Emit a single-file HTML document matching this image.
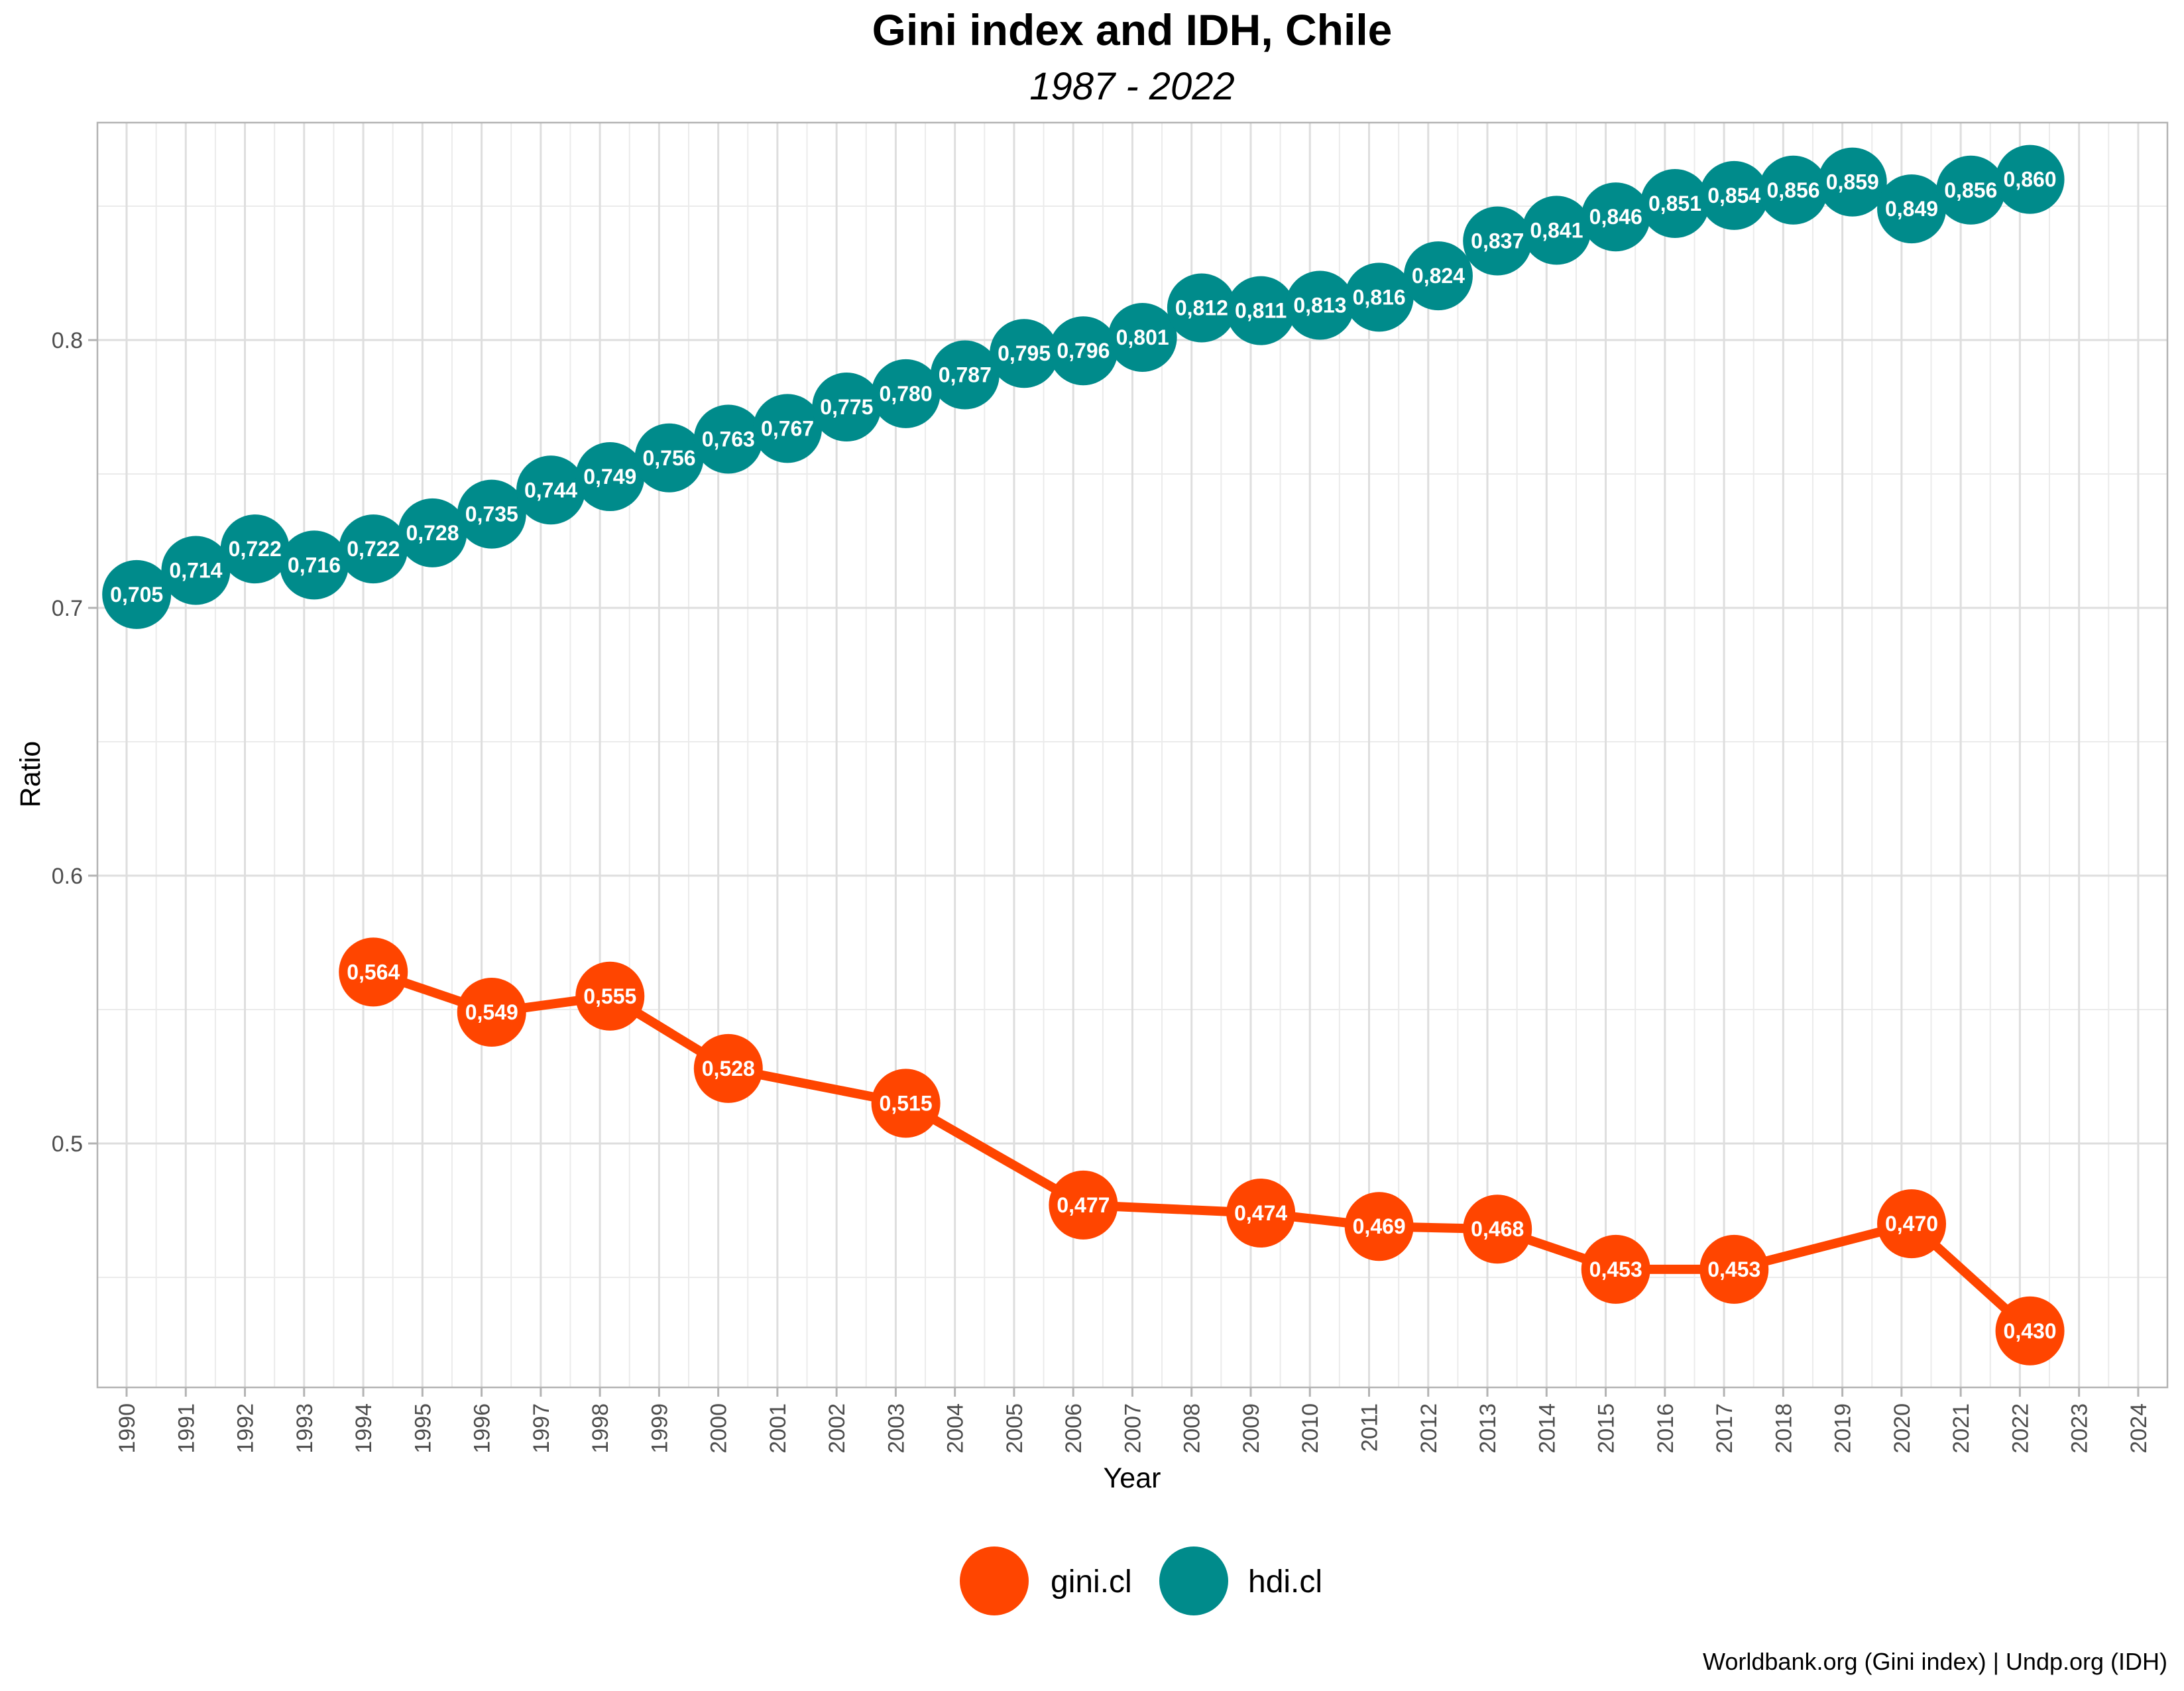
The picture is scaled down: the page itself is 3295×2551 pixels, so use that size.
<!DOCTYPE html>
<html><head><meta charset="utf-8">
<style>
html,body{margin:0;padding:0;background:#fff;}
svg{display:block;font-family:"Liberation Sans",Arial,sans-serif;}
</style></head>
<body>
<svg id="chart" width="3295" height="2551" viewBox="0 0 3295 2551" xmlns="http://www.w3.org/2000/svg">
<rect width="3295" height="2551" fill="#fff"/>
<text x="1708" y="68" text-anchor="middle" font-size="66" font-weight="bold" fill="#000">Gini index and IDH, Chile</text>
<text x="1708" y="150" text-anchor="middle" font-size="58" font-style="italic" fill="#000">1987 - 2022</text>
<g id="grid"></g>
<rect x="147" y="185" width="3123" height="1908" fill="none" stroke="#b3b3b3" stroke-width="2.5"/>
<g id="axes"></g>
<g id="series"></g>
<text transform="translate(60,1168) rotate(-90)" text-anchor="middle" font-size="43" fill="#000">Ratio</text>
<text x="1708" y="2244" text-anchor="middle" font-size="43" fill="#000">Year</text>
<g>
<g>
<circle cx="1500" cy="2385" r="52" fill="#FF4500"/>
<text x="1585" y="2402" font-size="48" fill="#000">gini.cl</text>
</g>
<g>
<circle cx="1801" cy="2385" r="52" fill="#008B8B"/>
<text x="1883" y="2402" font-size="48" fill="#000">hdi.cl</text>
</g>
</g>
<text x="3270" y="2519" text-anchor="end" font-size="36" fill="#000">Worldbank.org (Gini index) | Undp.org (IDH)</text>
</svg>
<script>
const giniYears = [1994,1996,1998,2000,2003,2006,2009,2011,2013,2015,2017,2020,2022];
const giniValues = [0.564,0.549,0.555,0.528,0.515,0.477,0.474,0.469,0.468,0.453,0.453,0.470,0.430];
const hdiYears = [1990,1991,1992,1993,1994,1995,1996,1997,1998,1999,2000,2001,2002,2003,2004,2005,2006,2007,2008,2009,2010,2011,2012,2013,2014,2015,2016,2017,2018,2019,2020,2021,2022];
const hdiValues = [0.705,0.714,0.722,0.716,0.722,0.728,0.735,0.744,0.749,0.756,0.763,0.767,0.775,0.780,0.787,0.795,0.796,0.801,0.812,0.811,0.813,0.816,0.824,0.837,0.841,0.846,0.851,0.854,0.856,0.859,0.849,0.856,0.860];
const yTicks = [0.5,0.6,0.7,0.8];
const xTickYears = [1990,1991,1992,1993,1994,1995,1996,1997,1998,1999,2000,2001,2002,2003,2004,2005,2006,2007,2008,2009,2010,2011,2012,2013,2014,2015,2016,2017,2018,2019,2020,2021,2022,2023,2024];

const NS = "http://www.w3.org/2000/svg";
const L=147,R=3270,T=185,B=2093;
const X0=1989.507,X1=2024.494,Y0=0.4089,Y1=0.8812;
const POINT_OFFSET=0.17;
function sx(v){return L+(v-X0)/(X1-X0)*(R-L);}
function sy(v){return B-(v-Y0)/(Y1-Y0)*(B-T);}
function mk(tag,attrs,parent){const e=document.createElementNS(NS,tag);for(const k in attrs)e.setAttribute(k,attrs[k]);parent.appendChild(e);return e;}
const grid=document.getElementById('grid'), axes=document.getElementById('axes'), series=document.getElementById('series');

for(let i=-1;i<xTickYears.length;i++){
  const yr = i<0 ? xTickYears[0]-1 : xTickYears[i];
  const xm=sx(yr+0.5);
  if(xm<R && xm>L){const g=mk('line',{x1:xm,x2:xm,y1:T,y2:B,stroke:'#ebebeb','stroke-width':2},grid);
  
  }
}
const ym0=[0.45,0.55,0.65,0.75,0.85];
for(const v of ym0){
  const g=mk('line',{x1:L,x2:R,y1:sy(v),y2:sy(v),stroke:'#ebebeb','stroke-width':2},grid);
  
  
}
for(const yr of xTickYears){
  const x=sx(yr);
  const g=mk('line',{x1:x,x2:x,y1:T,y2:B,stroke:'#dedede','stroke-width':3},grid);
  
  
  const t=mk('line',{x1:x,x2:x,y1:B,y2:B+14,stroke:'#b3b3b3','stroke-width':3},axes);
  
  
  const lb=mk('text',{transform:`translate(${x+12},${B+24}) rotate(-90)`,'text-anchor':'end','font-size':34,fill:'#4d4d4d'},axes);
  lb.textContent=yr;
  
  
}
for(const v of yTicks){
  const y=sy(v);
  const g=mk('line',{x1:L,x2:R,y1:y,y2:y,stroke:'#dedede','stroke-width':3},grid);
  
  
  const t=mk('line',{x1:L-14,x2:L,y1:y,y2:y,stroke:'#b3b3b3','stroke-width':3},axes);
  
  
  const lb=mk('text',{x:L-22,y:y+12,'text-anchor':'end','font-size':34,fill:'#4d4d4d'},axes);
  lb.textContent=v.toFixed(1);
  
  
}
function fmt(v){return v.toFixed(3).replace('.',',');}
function drawSeries(years,vals,color,name,line){
  if(line){
    const pts=years.map((y,i)=>sx(y+POINT_OFFSET)+','+sy(vals[i])).join(' ');
    const pl=mk('polyline',{points:pts,fill:'none',stroke:color,'stroke-width':14,'stroke-linejoin':'round'},series);
    
    
  }
  years.forEach((y,i)=>{
    const cx=sx(y+POINT_OFFSET), cy=sy(vals[i]);
    const c=mk('circle',{cx:cx,cy:cy,r:52,fill:color},series);
    
    
  });
  years.forEach((y,i)=>{
    const cx=sx(y+POINT_OFFSET), cy=sy(vals[i]);
    const t=mk('text',{x:cx,y:cy+11,'text-anchor':'middle','font-size':32,'font-weight':'bold',fill:'#fff'},series);
    t.textContent=fmt(vals[i]);
    
    
  });
}
drawSeries(giniYears,giniValues,'#FF4500','gini',true);
drawSeries(hdiYears,hdiValues,'#008B8B','hdi',false);
</script>
</body></html>
